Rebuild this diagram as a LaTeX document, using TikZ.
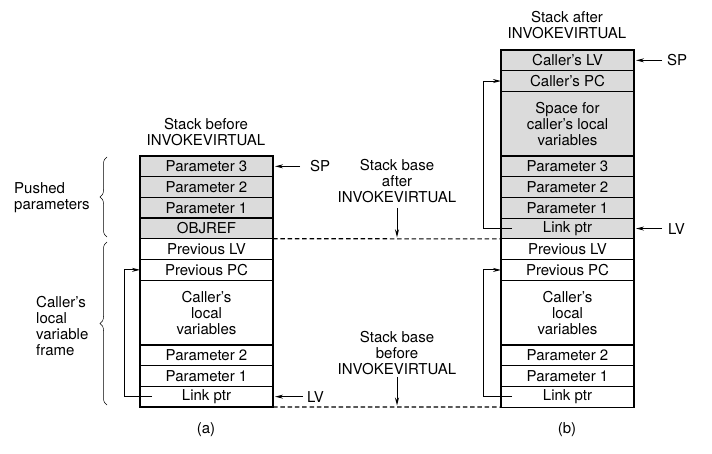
\documentclass[tikz,border=0pt]{standalone}
\usepackage{fontspec}
\setmainfont{TeX Gyre Heros}
\usetikzlibrary{positioning,arrows.meta,decorations.pathreplacing}
\begin{document}
\begin{tikzpicture}[x=1pt,y=-1pt,
  txt/.style={font=\fontsize{15}{16}\selectfont},
  cell/.style={txt, draw, line width=1.2pt, minimum width=133pt, minimum height=20.7pt,
    inner sep=0pt, outer sep=0pt, align=center},
  gcell/.style={cell, fill=black!14},
  big/.style={minimum height=64.7pt},
  lbl/.style={txt, inner sep=1pt, align=center},
  arr/.style={line width=1pt, -{Stealth[length=8pt,width=4pt]}},
  dline/.style={line width=1.2pt, dash pattern=on 4.5pt off 2.8pt},
  brc/.style={line width=0.5pt, decorate, decoration={brace, amplitude=7pt}}
]
\useasboundingbox (0,0) rectangle (712,454);

% ---- left stack (a)
\node[gcell, anchor=north west] (a1) at (140,156) {Parameter 3};
\node[gcell, below=0pt of a1] (a2) {Parameter 2};
\node[gcell, below=0pt of a2] (a3) {Parameter 1};
\node[gcell, below=0pt of a3] (a4) {OBJREF};
\node[cell, below=0pt of a4] (a5) {Previous LV};
\node[cell, below=0pt of a5] (a6) {Previous PC};
\node[cell, big, below=0pt of a6] (a7) {Caller's\\local\\variables};
\node[cell, below=0pt of a7] (a8) {Parameter 2};
\node[cell, below=0pt of a8] (a9) {Parameter 1};
\node[cell, below=0pt of a9] (a10) {Link ptr};

% ---- right stack (b)
\node[gcell, anchor=north west] (b1) at (501,50) {Caller's LV};
\node[gcell, below=0pt of b1] (b2) {Caller's PC};
\node[gcell, big, below=0pt of b2] (b3) {Space for\\caller's local\\variables};
\node[gcell, below=0pt of b3] (b4) {Parameter 3};
\node[gcell, below=0pt of b4] (b5) {Parameter 2};
\node[gcell, below=0pt of b5] (b6) {Parameter 1};
\node[gcell, below=0pt of b6] (b7) {Link ptr};
\node[cell, below=0pt of b7] (b8) {Previous LV};
\node[cell, below=0pt of b8] (b9) {Previous PC};
\node[cell, big, below=0pt of b9] (b10) {Caller's\\local\\variables};
\node[cell, below=0pt of b10] (b11) {Parameter 2};
\node[cell, below=0pt of b11] (b12) {Parameter 1};
\node[cell, below=0pt of b12] (b13) {Link ptr};

% ---- titles and captions
\node[lbl] (ta) at (206,132) {Stack before\\INVOKEVIRTUAL};
\node[lbl] (tb) at (567,25) {Stack after\\INVOKEVIRTUAL};
\node[lbl] (ca) at (206,430) {(a)};
\node[lbl] (cb) at (567,430) {(b)};

% ---- pointer labels
\node[lbl, right=36pt of a1] (spa) {SP};
\node[lbl, right=33pt of a10] (lva) {LV};
\node[lbl, right=32pt of b1] (spb) {SP};
\node[lbl, right=33pt of b7] (lvb) {LV};
\draw[arr] ([xshift=-9pt]spa.west) -- ([xshift=2pt]a1.east);
\draw[arr] ([xshift=-3pt]lva.west) -- ([xshift=2pt]a10.east);
\draw[arr] ([xshift=-4pt]spb.west) -- ([xshift=2pt]b1.east);
\draw[arr] ([xshift=-5pt]lvb.west) -- ([xshift=2pt]b7.east);

% ---- link pointers
\draw[arr] ([xshift=12pt]a10.west) -- ++(-28,0) |- (a6.west);
\draw[arr] ([xshift=11pt]b7.west) -- ++(-29,0) |- (b2.west);
\draw[arr] ([xshift=11pt]b13.west) -- ++(-29,0) |- (b9.west);

% ---- stack bases
\draw[dline] (a4.south east) -- (b7.south west);
\draw[dline] (a10.south east) -- (b13.south west);
\node[lbl] (sba) at (397,181) {Stack base\\after\\INVOKEVIRTUAL};
\node[lbl] (sbb) at (397,353) {Stack base\\before\\INVOKEVIRTUAL};
\draw[arr] ([yshift=-4pt]sba.south) -- ([yshift=1.5pt]sba.south |- a4.south);
\draw[arr] ([yshift=-1pt]sbb.south) -- ([yshift=1.5pt]sbb.south |- a10.south);

% ---- braces
\draw[brc] (107,237) -- (107,157);
\draw[brc] (107,405) -- (107,242);
\node[lbl, align=left, anchor=west] (pp) at (13,198) {Pushed\\parameters};
\node[lbl, align=left, anchor=west] (clv) at (35,326) {Caller's\\local\\variable\\frame};
\end{tikzpicture}
\end{document}
